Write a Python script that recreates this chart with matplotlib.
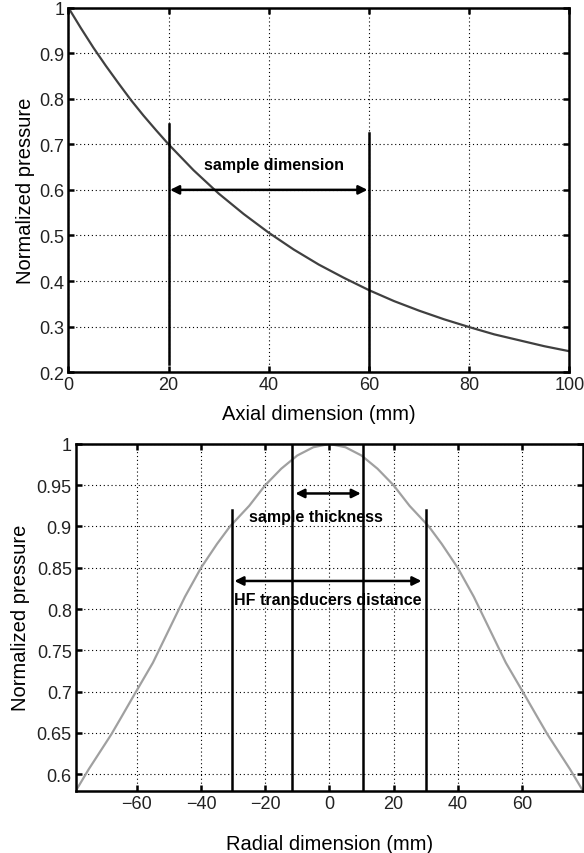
import numpy as np
import matplotlib
matplotlib.use("Agg")
import matplotlib.pyplot as plt

plt.rcParams['font.family'] = ['Liberation Sans', 'DejaVu Sans']

# axial profile
axial_x = [0, 2.5, 5, 7.5, 10, 12.5, 15, 17.5, 20, 25, 30, 35, 40, 45, 50, 55, 60,
           65, 70, 75, 80, 85, 90, 95, 100]
axial_p = [1.0, 0.955, 0.912, 0.872, 0.834, 0.797, 0.763, 0.731, 0.700, 0.643, 0.592,
           0.547, 0.506, 0.469, 0.436, 0.407, 0.380, 0.356, 0.335, 0.316, 0.299,
           0.283, 0.270, 0.257, 0.246]
axial_marks = [20, 60]
axial_marks_top = [0.745, 0.725]
axial_marks_bot = [0.217, 0.2]
axial_xticks = [0, 20, 40, 60, 80, 100]
axial_yticks = [0.2, 0.3, 0.4, 0.5, 0.6, 0.7, 0.8, 0.9, 1.0]
axial_ylabels = ['0.2', '0.3', '0.4', '0.5', '0.6', '0.7', '0.8', '0.9', '1']

# radial profile
radial_x = [-79, -77, -75, -72, -68, -65, -61, -55, -50, -45, -40, -35, -31, -25, -20, -15,
            -10, -5, 0, 5, 10, 15, 20, 25, 31, 35, 40, 45, 50, 55, 61, 65, 68, 72, 75, 77, 79]
radial_p = [0.58, 0.593, 0.606, 0.624, 0.648, 0.668, 0.695, 0.735, 0.775, 0.815, 0.85, 0.879,
            0.9, 0.925, 0.95, 0.970, 0.986, 0.996, 1.0, 0.996, 0.986, 0.970, 0.95, 0.925,
            0.9, 0.879, 0.85, 0.815, 0.775, 0.735, 0.695, 0.668, 0.648, 0.624, 0.606, 0.593, 0.58]
radial_marks = [-30.5, -11.5, 10.5, 30]
radial_marks_top = [0.92, 1.0, 1.0, 0.92]
radial_xticks = [-60, -40, -20, 0, 20, 40, 60]
radial_xlabels = ['\u221260', '\u221240', '\u221220', '0', '20', '40', '60']
radial_yticks = [0.6, 0.65, 0.7, 0.75, 0.8, 0.85, 0.9, 0.95, 1.0]
radial_ylabels = ['0.6', '0.65', '0.7', '0.75', '0.8', '0.85', '0.9', '0.95', '1']

fig = plt.figure(figsize=(5.84, 8.54), dpi=100)
ax1 = fig.add_axes([0.117, 0.563, 0.858, 0.427])
ax2 = fig.add_axes([0.130, 0.073, 0.868, 0.406])


def style(ax):
    for s in ax.spines.values():
        s.set_linewidth(1.8)
    ax.tick_params(direction='in', length=4, width=1.8, top=True, right=True,
                   labelsize=13, labelcolor='#222222', pad=3)
    ax.grid(True, color='k', linestyle=(0, (1, 2.5)), linewidth=0.8)
    ax.set_axisbelow(True)


arrow = dict(arrowstyle='<|-|>', lw=1.8, color='k', mutation_scale=13, shrinkA=0, shrinkB=0)

# top plot
ax1.plot(axial_x, axial_p, color='#404040', lw=1.6)
for x, y0, y1 in zip(axial_marks, axial_marks_bot, axial_marks_top):
    ax1.plot([x, x], [y0, y1], color='k', lw=1.8)
ax1.annotate('', xy=(20.3, 0.6), xytext=(59.7, 0.6), arrowprops=arrow)
ax1.text(41, 0.655, 'sample dimension', ha='center', va='center', fontsize=11.5, fontweight='bold')
ax1.set_xlim(0, 100)
ax1.set_ylim(0.2, 1)
ax1.set_xticks(axial_xticks)
ax1.set_yticks(axial_yticks)
ax1.set_yticklabels(axial_ylabels)
ax1.set_xlabel('Axial dimension (mm)', fontsize=14.5, labelpad=8)
ax1.set_ylabel('Normalized pressure', fontsize=14.5, labelpad=3)
style(ax1)

# bottom plot
ax2.plot(radial_x, radial_p, color='#a0a0a0', lw=1.6)
for x, y1 in zip(radial_marks, radial_marks_top):
    ax2.plot([x, x], [0.58, y1], color='k', lw=1.8)
ax2.annotate('', xy=(-10.6, 0.94), xytext=(9.8, 0.94), arrowprops=arrow)
ax2.text(-4.2, 0.912, 'sample thickness', ha='center', va='center', fontsize=11.5, fontweight='bold')
ax2.annotate('', xy=(-29.6, 0.834), xytext=(28.7, 0.834), arrowprops=arrow)
ax2.text(-0.5, 0.811, 'HF transducers distance', ha='center', va='center', fontsize=11.5,
         fontweight='bold')
ax2.set_xlim(-79, 79)
ax2.set_ylim(0.58, 1)
ax2.set_xticks(radial_xticks)
ax2.set_xticklabels(radial_xlabels)
ax2.set_yticks(radial_yticks)
ax2.set_yticklabels(radial_ylabels)
ax2.set_xlabel('Radial dimension (mm)', fontsize=14.5, labelpad=16)
ax2.set_ylabel('Normalized pressure', fontsize=14.5, labelpad=5)
style(ax2)

fig.savefig('out.png', dpi=100)
